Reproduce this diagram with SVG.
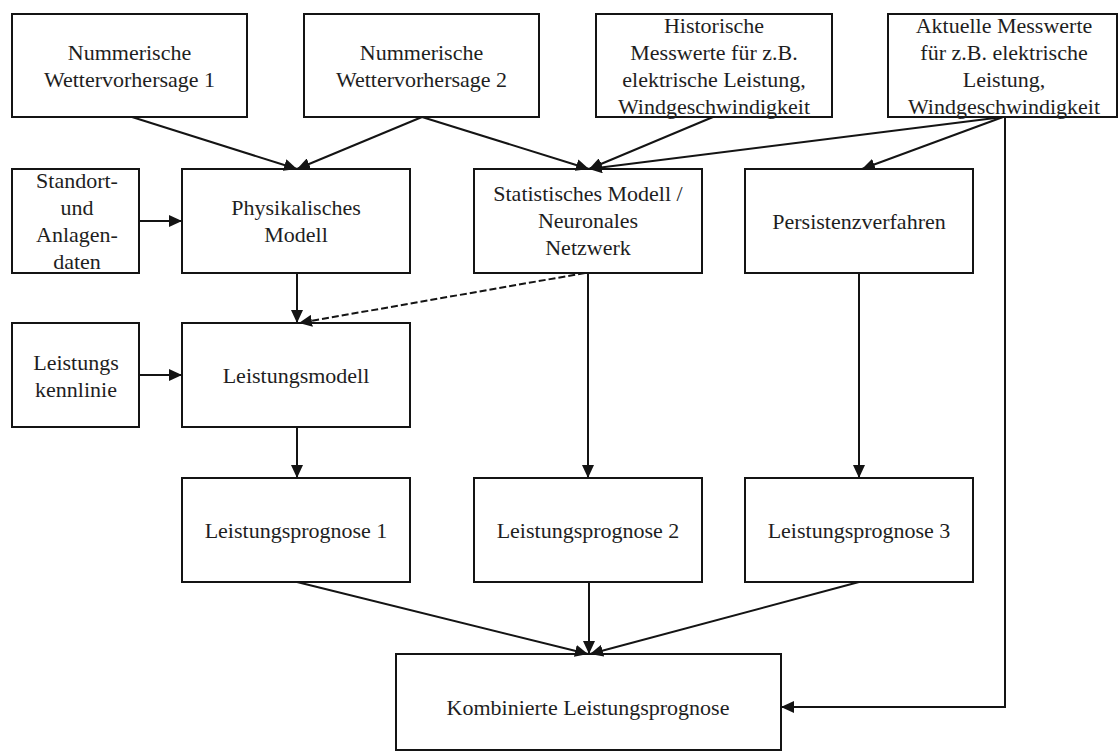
<svg xmlns="http://www.w3.org/2000/svg" width="1118" height="754" viewBox="0 0 1118 754">
  <style>
    .box { fill: #ffffff; stroke: #141414; stroke-width: 2; }
    .lbl { font-family: 'Liberation Serif', 'DejaVu Serif', serif; font-size: 22px; fill: #1e1e1e; text-anchor: middle; }
    .edge { fill: none; stroke: #141414; stroke-width: 2; }
    .dash { stroke-dasharray: 7 3; }
  </style>
  <defs>
    <marker id="arrow" markerUnits="userSpaceOnUse" markerWidth="14" markerHeight="12" refX="13" refY="6" orient="auto">
      <path d="M0,0 L13,6 L0,12 z" fill="#141414"/>
    </marker>
  </defs>
  <rect width="1118" height="754" fill="#ffffff"/>

  <!-- inputs -->
  <g id="nwv1">
    <rect class="box" x="12" y="14" width="235" height="103"/>
    <text class="lbl" x="129.5" y="60">Nummerische</text>
    <text class="lbl" x="129.5" y="87">Wettervorhersage 1</text>
  </g>
  <g id="nwv2">
    <rect class="box" x="304" y="14" width="235" height="103"/>
    <text class="lbl" x="421.5" y="60">Nummerische</text>
    <text class="lbl" x="421.5" y="87">Wettervorhersage 2</text>
  </g>
  <g id="historisch">
    <rect class="box" x="596" y="14" width="236" height="103"/>
    <text class="lbl" x="714" y="33">Historische</text>
    <text class="lbl" x="714" y="60">Messwerte für z.B.</text>
    <text class="lbl" x="714" y="87">elektrische Leistung,</text>
    <text class="lbl" x="714" y="114">Windgeschwindigkeit</text>
  </g>
  <g id="aktuell">
    <rect class="box" x="888" y="14" width="229" height="103"/>
    <text class="lbl" x="1004" y="33">Aktuelle Messwerte</text>
    <text class="lbl" x="1004" y="60">für z.B. elektrische</text>
    <text class="lbl" x="1004" y="87">Leistung,</text>
    <text class="lbl" x="1004" y="114">Windgeschwindigkeit</text>
  </g>

  <!-- models -->
  <g id="standort">
    <rect class="box" x="12" y="169" width="127" height="104"/>
    <text class="lbl" x="77" y="188">Standort-</text>
    <text class="lbl" x="77" y="215">und</text>
    <text class="lbl" x="77" y="242">Anlagen-</text>
    <text class="lbl" x="77" y="269">daten</text>
  </g>
  <g id="physikalisch">
    <rect class="box" x="182" y="169" width="228" height="104"/>
    <text class="lbl" x="296" y="215">Physikalisches</text>
    <text class="lbl" x="296" y="242">Modell</text>
  </g>
  <g id="statistisch">
    <rect class="box" x="474" y="169" width="228" height="104"/>
    <text class="lbl" x="588" y="201">Statistisches Modell /</text>
    <text class="lbl" x="588" y="228">Neuronales</text>
    <text class="lbl" x="588" y="255">Netzwerk</text>
  </g>
  <g id="persistenz">
    <rect class="box" x="745" y="169" width="228" height="104"/>
    <text class="lbl" x="859" y="229">Persistenzverfahren</text>
  </g>

  <g id="kennlinie">
    <rect class="box" x="12" y="323" width="127" height="104"/>
    <text class="lbl" x="76" y="370">Leistungs</text>
    <text class="lbl" x="76" y="397">kennlinie</text>
  </g>
  <g id="leistungsmodell">
    <rect class="box" x="182" y="323" width="228" height="104"/>
    <text class="lbl" x="296" y="383">Leistungsmodell</text>
  </g>

  <!-- forecasts -->
  <g id="prognose1">
    <rect class="box" x="182" y="478" width="228" height="104"/>
    <text class="lbl" x="296" y="538">Leistungsprognose 1</text>
  </g>
  <g id="prognose2">
    <rect class="box" x="474" y="478" width="228" height="104"/>
    <text class="lbl" x="588" y="538">Leistungsprognose 2</text>
  </g>
  <g id="prognose3">
    <rect class="box" x="745" y="478" width="228" height="104"/>
    <text class="lbl" x="859" y="538">Leistungsprognose 3</text>
  </g>
  <g id="kombiniert">
    <rect class="box" x="396" y="654" width="385" height="96"/>
    <text class="lbl" x="588" y="715">Kombinierte Leistungsprognose</text>
  </g>

  <!-- connectors -->
  <g id="connectors">
    <line class="edge" x1="132" y1="117" x2="297" y2="169" marker-end="url(#arrow)"/>
    <line class="edge" x1="422" y1="117" x2="297" y2="169" marker-end="url(#arrow)"/>
    <line class="edge" x1="422" y1="117" x2="589" y2="169" marker-end="url(#arrow)"/>
    <line class="edge" x1="713" y1="117" x2="589" y2="169" marker-end="url(#arrow)"/>
    <line class="edge" x1="1003" y1="117" x2="589" y2="169" marker-end="url(#arrow)"/>
    <line class="edge" x1="1003" y1="117" x2="862" y2="169" marker-end="url(#arrow)"/>
    <line class="edge" x1="139" y1="221" x2="182" y2="221" marker-end="url(#arrow)"/>
    <line class="edge" x1="297" y1="273" x2="297" y2="323" marker-end="url(#arrow)"/>
    <line class="edge dash" x1="585" y1="273" x2="299" y2="323" marker-end="url(#arrow)"/>
    <line class="edge" x1="139" y1="375" x2="182" y2="375" marker-end="url(#arrow)"/>
    <line class="edge" x1="297" y1="427" x2="297" y2="478" marker-end="url(#arrow)"/>
    <line class="edge" x1="588" y1="273" x2="588" y2="478" marker-end="url(#arrow)"/>
    <line class="edge" x1="859" y1="273" x2="859" y2="478" marker-end="url(#arrow)"/>
    <line class="edge" x1="297" y1="582" x2="588" y2="654" marker-end="url(#arrow)"/>
    <line class="edge" x1="589" y1="582" x2="589" y2="654" marker-end="url(#arrow)"/>
    <line class="edge" x1="859" y1="582" x2="590" y2="654" marker-end="url(#arrow)"/>
    <polyline class="edge" points="1005,117 1005,707 781,707" marker-end="url(#arrow)"/>
  </g>
</svg>
